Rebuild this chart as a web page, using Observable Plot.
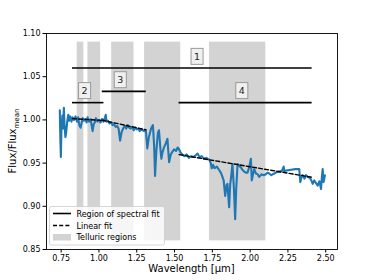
<!DOCTYPE html>
<html>
<head>
<meta charset="utf-8">
<script src="https://cdn.jsdelivr.net/npm/d3@7"></script>
<script src="https://cdn.jsdelivr.net/npm/@observablehq/plot@0.6"></script>
<style>
  html, body { margin: 0; padding: 0; background: #fff; }
  svg { font-family: "DejaVu Sans", sans-serif; }
</style>
</head>
<body>
<div id="chart"></div>
<script>
// Spectrum (wavelength in micron, normalised flux)
const specWave = [0.741,0.745,0.748,0.752,0.758,0.763,0.768,0.772,0.778,0.783,0.790,0.797,0.803,0.810,0.818,0.825,0.835,0.845,0.855,0.862,0.870,0.878,0.885,0.893,0.900,0.910,0.918,0.925,0.935,0.945,0.952,0.958,0.965,0.972,0.980,0.990,1.000,1.010,1.020,1.030,1.040,1.045,1.050,1.060,1.070,1.080,1.090,1.100,1.110,1.120,1.130,1.140,1.150,1.160,1.170,1.180,1.190,1.200,1.210,1.220,1.230,1.240,1.250,1.260,1.270,1.280,1.290,1.300,1.310,1.320,1.330,1.345,1.357,1.365,1.371,1.380,1.390,1.397,1.405,1.413,1.420,1.430,1.440,1.453,1.464,1.475,1.485,1.497,1.510,1.520,1.530,1.540,1.552,1.565,1.580,1.595,1.610,1.625,1.640,1.652,1.665,1.680,1.695,1.710,1.729,1.740,1.746,1.755,1.765,1.780,1.795,1.806,1.815,1.825,1.835,1.845,1.850,1.861,1.868,1.875,1.883,1.893,1.901,1.908,1.917,1.928,1.939,1.950,1.962,1.972,1.983,1.995,2.005,2.011,2.020,2.027,2.038,2.050,2.060,2.075,2.090,2.104,2.115,2.126,2.140,2.149,2.160,2.171,2.190,2.210,2.222,2.226,2.260,2.300,2.325,2.332,2.340,2.347,2.360,2.370,2.381,2.395,2.405,2.414,2.424,2.435,2.447,2.458,2.469,2.475,2.480,2.486,2.495];
const specFlux = [1.011,0.975,0.957,0.990,1.005,0.990,1.014,0.995,0.980,0.985,0.998,1.006,0.999,1.004,0.998,1.003,1.000,1.004,0.998,1.003,0.994,0.991,0.996,1.002,0.999,1.001,0.997,1.003,0.998,1.001,0.993,0.987,0.995,0.997,1.002,0.998,1.000,0.997,1.001,0.998,1.003,1.006,0.998,0.999,0.996,0.997,0.994,0.995,0.992,0.993,0.990,0.976,0.986,0.990,0.993,0.990,0.994,0.991,0.990,0.992,0.988,0.991,0.989,0.990,0.987,0.989,0.988,0.987,0.988,0.967,0.980,0.990,0.994,0.970,0.935,0.965,0.985,0.988,0.970,0.955,0.962,0.968,0.972,0.978,0.951,0.960,0.963,0.966,0.964,0.968,0.966,0.962,0.960,0.958,0.960,0.956,0.958,0.957,0.959,0.961,0.957,0.958,0.955,0.956,0.954,0.950,0.944,0.948,0.944,0.946,0.942,0.939,0.935,0.930,0.912,0.925,0.926,0.899,0.925,0.935,0.949,0.920,0.885,0.920,0.949,0.947,0.945,0.942,0.940,0.939,0.939,0.946,0.955,0.930,0.938,0.943,0.938,0.937,0.934,0.937,0.936,0.937,0.939,0.938,0.936,0.937,0.938,0.939,0.940,0.941,0.946,0.941,0.942,0.943,0.943,0.928,0.934,0.936,0.932,0.936,0.934,0.933,0.930,0.926,0.930,0.927,0.924,0.929,0.920,0.935,0.943,0.928,0.936];

// Telluric regions
const tellStart = [0.856, 0.927, 1.084, 1.302, 1.731];
const tellEnd   = [0.900, 1.011, 1.232, 1.541, 2.104];
const tellBottom = 0.86, tellTop = 1.09;

// Regions of spectral fit
const regStart = [0.825, 0.825, 1.022, 1.530];
const regEnd   = [2.410, 1.033, 1.313, 2.410];
const regLevel = [1.060, 1.020, 1.033, 1.020];

// Region labels
const labText = ["1", "2", "3", "4"];
const labWave = [1.649, 0.905, 1.141, 1.945];
const labFlux = [1.073, 1.0334, 1.046, 1.0334];

// Linear fits (start/end per region)
const fitRegion = ["2", "2", "3", "3", "4", "4"];
const fitWave   = [0.825, 1.030, 1.020, 1.310, 1.530, 2.410];
const fitFlux   = [1.0015, 0.9993, 0.9997, 0.9886, 0.9598, 0.9336];

// Ticks
const xTicks = [0.75, 1.00, 1.25, 1.50, 1.75, 2.00, 2.25, 2.50];
const yTicks = [0.85, 0.90, 0.95, 1.00, 1.05, 1.10];

const spectrum = specWave.map((w, i) => ({w, f: specFlux[i]}));
const tell = tellStart.map((s, i) => ({x1: s, x2: tellEnd[i], y1: tellBottom, y2: tellTop}));
const regs = regStart.map((s, i) => ({x1: s, x2: regEnd[i], y: regLevel[i]}));
const labs = labText.map((t, i) => ({t, x: labWave[i], y: labFlux[i]}));
const fits = fitWave.map((w, i) => ({r: fitRegion[i], w, f: fitFlux[i]}));

const W = 374, H = 280;
const mL = 46, mT = 33, mR = 37, mB = 31;

const chart = Plot.plot({
  width: W, height: H,
  marginLeft: mL, marginTop: mT, marginRight: mR, marginBottom: mB,
  style: {fontFamily: "DejaVu Sans, sans-serif", fontSize: "8px", color: "#000", background: "#fff"},
  x: {domain: [0.653, 2.578]},
  y: {domain: [0.85, 1.10]},
  marks: [
    Plot.rect(tell, {x1: "x1", x2: "x2", y1: "y1", y2: "y2", fill: "#d3d3d3"}),
    Plot.line(spectrum, {x: "w", y: "f", stroke: "#1f77b4", strokeWidth: 2.1, strokeLinejoin: "round"}),
    Plot.ruleY(regs, {y: "y", x1: "x1", x2: "x2", stroke: "#000", strokeWidth: 1.6}),
    Plot.line(fits, {x: "w", y: "f", z: "r", stroke: "#000", strokeWidth: 1.4, strokeDasharray: "4,2.2"}),
    Plot.text(labs, {x: "x", y: "y", text: "t", fontSize: 9.5, fill: "#222"}),
    Plot.axisX({ticks: xTicks, tickFormat: d3.format(".2f"), tickSize: 3.5, tickPadding: 2.5, label: null, fontSize: 8}),
    Plot.axisY({ticks: yTicks, tickFormat: d3.format(".2f"), tickSize: 3.5, tickPadding: 2.5, label: null, fontSize: 8}),
    Plot.frame({stroke: "#000", strokeWidth: 0.9})
  ]
});

document.getElementById("chart").appendChild(chart);

const svg = d3.select(chart);
const ns = "http://www.w3.org/2000/svg";

// Boxes around region labels
svg.selectAll("text").each(function() {
  const g = this.closest("g");
  const al = g ? (g.getAttribute("aria-label") || "") : "";
  if (al.includes("axis")) return;
  if (!labText.includes(this.textContent.trim())) return;
  const bb = this.getBBox();
  const padX = 3, padY = 2.5;
  const r = document.createElementNS(ns, "rect");
  r.setAttribute("x", bb.x - padX);
  r.setAttribute("y", bb.y - padY);
  r.setAttribute("width", bb.width + 2 * padX);
  r.setAttribute("height", bb.height + 2 * padY);
  const tf = this.getAttribute("transform");
  if (tf) r.setAttribute("transform", tf);
  const tx = this.getAttribute("x"), ty = this.getAttribute("y");
  r.setAttribute("fill", "#f0f0f0");
  r.setAttribute("stroke", "#999");
  r.setAttribute("stroke-width", "1");
  this.parentNode.insertBefore(r, this);
});

// Axis labels
svg.append("text")
  .attr("x", (mL + (W - mR)) / 2).attr("y", 272)
  .attr("text-anchor", "middle")
  .attr("font-size", 10).attr("fill", "#000")
  .text("Wavelength [μm]");

const yl = svg.append("text")
  .attr("transform", `translate(16,${(mT + (H - mB)) / 2}) rotate(-90)`)
  .attr("text-anchor", "middle")
  .attr("font-size", 10).attr("fill", "#000");
yl.append("tspan").text("Flux/Flux");
yl.append("tspan").attr("font-size", 7).attr("dy", 2.5).text("mean");

// Legend
const lg = svg.append("g").attr("text-anchor", "start");
lg.append("rect")
  .attr("x", 49.5).attr("y", 206.5).attr("width", 115).attr("height", 38.5)
  .attr("rx", 2).attr("fill", "#fff").attr("fill-opacity", 0.8)
  .attr("stroke", "#ccc").attr("stroke-width", 0.8);
lg.append("line").attr("x1", 53).attr("x2", 71).attr("y1", 213.5).attr("y2", 213.5)
  .attr("stroke", "#000").attr("stroke-width", 1.6);
lg.append("line").attr("x1", 53).attr("x2", 71).attr("y1", 225.5).attr("y2", 225.5)
  .attr("stroke", "#000").attr("stroke-width", 1.4).attr("stroke-dasharray", "4,2.2");
lg.append("rect").attr("x", 53).attr("y", 234).attr("width", 18).attr("height", 6.5)
  .attr("fill", "#d3d3d3");
const legTexts = ["Region of spectral fit", "Linear fit", "Telluric regions"];
const legY = [216.5, 228.5, 240.3];
legTexts.forEach((t, i) => {
  lg.append("text").attr("x", 76.5).attr("y", legY[i])
    .attr("text-anchor", "start")
    .attr("font-size", 8).attr("fill", "#000").text(t);
});
</script>
</body>
</html>
